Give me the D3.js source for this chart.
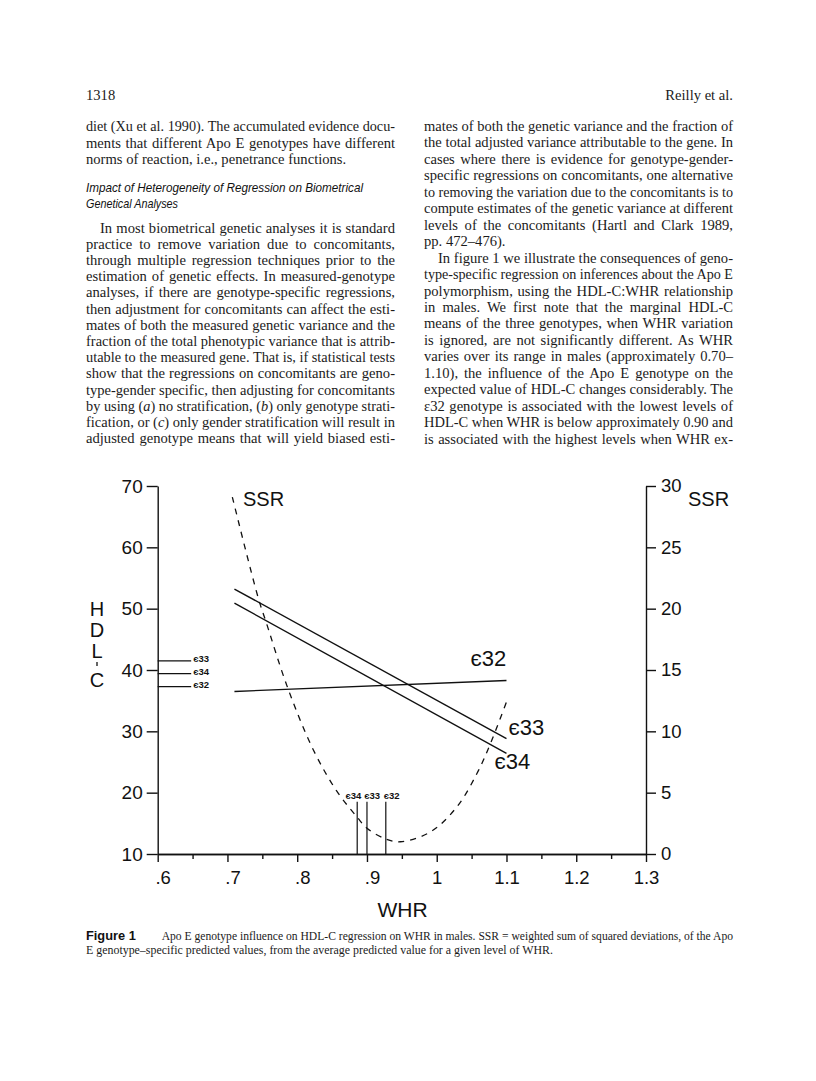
<!DOCTYPE html>
<html>
<head>
<meta charset="utf-8">
<script src="https://cdn.jsdelivr.net/npm/d3@7"></script>
<style>
  body { margin: 0; background: #fff; }
  svg { display: block; }
  .serif { font-family: 'Liberation Serif', 'Times New Roman', serif; fill: #1b1b1b; }
  .sans { font-family: 'Liberation Sans', Arial, sans-serif; fill: #111; }
</style>
</head>
<body>
<div id="page"></div>
<script>
// Page text (underscores mark italic runs)
const pageHeader = ['1318', 'Reilly et al.'];

const leftTopLines = [
  'diet (Xu et al. 1990). The accumulated evidence docu-',
  'ments that different Apo E genotypes have different',
  'norms of reaction, i.e., penetrance functions.'
];

const headingLines = [
  'Impact of Heterogeneity of Regression on Biometrical',
  'Genetical Analyses'
];

const leftBodyLines = [
  'In most biometrical genetic analyses it is standard',
  'practice to remove variation due to concomitants,',
  'through multiple regression techniques prior to the',
  'estimation of genetic effects. In measured-genotype',
  'analyses, if there are genotype-specific regressions,',
  'then adjustment for concomitants can affect the esti-',
  'mates of both the measured genetic variance and the',
  'fraction of the total phenotypic variance that is attrib-',
  'utable to the measured gene. That is, if statistical tests',
  'show that the regressions on concomitants are geno-',
  'type-gender specific, then adjusting for concomitants',
  'by using (_a_) no stratification, (_b_) only genotype strati-',
  'fication, or (_c_) only gender stratification will result in',
  'adjusted genotype means that will yield biased esti-'
];

const rightTopLines = [
  'mates of both the genetic variance and the fraction of',
  'the total adjusted variance attributable to the gene. In',
  'cases where there is evidence for genotype-gender-',
  'specific regressions on concomitants, one alternative',
  'to removing the variation due to the concomitants is to',
  'compute estimates of the genetic variance at different',
  'levels of the concomitants (Hartl and Clark 1989,',
  'pp. 472–476).'
];

const rightBodyLines = [
  'In figure 1 we illustrate the consequences of geno-',
  'type-specific regression on inferences about the Apo E',
  'polymorphism, using the HDL-C:WHR relationship',
  'in males. We first note that the marginal HDL-C',
  'means of the three genotypes, when WHR variation',
  'is ignored, are not significantly different. As WHR',
  'varies over its range in males (approximately 0.70–',
  '1.10), the influence of the Apo E genotype on the',
  'expected value of HDL-C changes considerably. The',
  'ε32 genotype is associated with the lowest levels of',
  'HDL-C when WHR is below approximately 0.90 and',
  'is associated with the highest levels when WHR ex-'
];

const captionTitle = 'Figure 1';
const captionLines = [
  'Apo E genotype influence on HDL-C regression on WHR in males. SSR = weighted sum of squared deviations, of the Apo',
  'E genotype–specific predicted values, from the average predicted value for a given level of WHR.'
];

// Chart values
const whrTicks = [0.6, 0.7, 0.8, 0.9, 1.0, 1.1, 1.2, 1.3];
const whrTickLabels = ['.6', '.7', '.8', '.9', '1', '1.1', '1.2', '1.3'];
const whrMinorTicks = [0.65, 0.75, 0.85, 0.95, 1.05, 1.15, 1.25];
const hdlTicks = [10, 20, 30, 40, 50, 60, 70];
const ssrTicks = [0, 5, 10, 15, 20, 25, 30];

const genotypes = ['є32', 'є33', 'є34'];
const regressionWhr = [0.71, 1.10];
const hdlAtStart = [36.5, 53.2, 50.9];
const hdlAtEnd = [38.3, 28.8, 26.4];
const marginalMeans = [37.3, 41.5, 39.4];
const marginalWhr = [0.6, 0.648];
const crossoverWhr = [0.927, 0.900, 0.886];
const crossoverTop = [18.5, 18.5, 18.5];

const ssrWhr = [0.707, 0.744, 0.756, 0.786, 0.823, 0.857, 0.886, 0.900, 0.928, 0.948, 0.991, 1.029, 1.058, 1.077, 1.100];
const ssrValues = [29.1, 20.9, 18.8, 13.6, 8.5, 5.1, 3.0, 2.1, 1.2, 1.0, 1.8, 3.85, 6.6, 9.0, 12.4];

let svg = d3.select('#page')
            .append('svg')
            .attr('width', 816)
            .attr('height', 1081);

svg.append('rect')
   .attr('width', 816)
   .attr('height', 1081)
   .attr('fill', '#fff');

// Draw one line of text, squeezing or justifying it to the given width.
function addLine(str, x0, y0, width, cls, size, justify) {
  let t = svg.append('text')
             .attr('class', cls)
             .attr('x', x0)
             .attr('y', y0)
             .style('font-size', size + 'px');

  str.split('_').forEach((part, i) => {
    if (!part) return;
    let span = t.append('tspan').text(part);
    if (i % 2 === 1) span.style('font-style', 'italic');
  });

  if (width == null) return t;

  let natural = t.node().getComputedTextLength();
  if (natural > width) {
    t.attr('textLength', width).attr('lengthAdjust', 'spacingAndGlyphs');
  } else if (justify) {
    let spaces = (str.match(/ /g) || []).length;
    if (spaces > 0) t.style('word-spacing', ((width - natural) / spaces) + 'px');
  }
  return t;
}

const bodySize = 14.6;
const leftX = 86, rightX = 424, colWidth = 309, indent = 14;

// Header
addLine(pageHeader[0], leftX, 100, null, 'serif', bodySize);
addLine(pageHeader[1], 733, 100, null, 'serif', bodySize).attr('text-anchor', 'end');

// Left column
leftTopLines.forEach((line, i) => {
  let last = i === leftTopLines.length - 1;
  addLine(line, leftX, 131 + i * 16.6, colWidth, 'serif', bodySize, !last);
});

addLine(headingLines[0], leftX, 192, 277, 'sans', 12.8, true).style('font-style', 'italic');
addLine(headingLines[1], leftX, 207.5, 92, 'sans', 12.8, true).style('font-style', 'italic');

leftBodyLines.forEach((line, i) => {
  let dx = i === 0 ? indent : 0;
  addLine(line, leftX + dx, 232.5 + i * 16.2, colWidth - dx, 'serif', bodySize, true);
});

// Right column
rightTopLines.forEach((line, i) => {
  let last = i === rightTopLines.length - 1;
  addLine(line, rightX, 131 + i * 16.45, last ? null : colWidth, 'serif', bodySize, !last);
});

rightBodyLines.forEach((line, i) => {
  let dx = i === 0 ? indent : 0;
  addLine(line, rightX + dx, 131 + (i + 8) * 16.45, colWidth - dx, 'serif', bodySize, true);
});

// Caption
addLine(captionTitle, leftX, 940, 50, 'sans', 12.8, false).style('font-weight', 'bold');
addLine(captionLines[0], 161.7, 940, 733 - 161.7, 'serif', 12.3, true);
addLine(captionLines[1], leftX, 953.5, 467, 'serif', 12.3, true);

// Scales
let x = d3.scaleLinear()
          .domain([0.6, 1.3])
          .range([157.7, 646]);

let yHdl = d3.scaleLinear()
             .domain([10, 70])
             .range([854, 486]);

let ySsr = d3.scaleLinear()
             .domain([0, 30])
             .range([854, 486]);

function styleAxis(g, size) {
  g.attr('font-family', "'Liberation Sans', Arial, sans-serif")
   .attr('font-size', size);
  g.selectAll('path, line')
   .attr('stroke', '#111')
   .attr('stroke-width', 1.4);
  g.selectAll('text').attr('fill', '#111');
}

// Left axis (HDL-C)
svg.append('g')
   .attr('transform', `translate(${x(0.6)}, 0)`)
   .call(d3.axisLeft(yHdl)
           .tickValues(hdlTicks)
           .tickSize(11)
           .tickPadding(4)
           .tickSizeOuter(0))
   .call(g => styleAxis(g, 19));

// Right axis (SSR)
svg.append('g')
   .attr('transform', `translate(${x(1.3)}, 0)`)
   .call(d3.axisRight(ySsr)
           .tickValues(ssrTicks)
           .tickSize(10)
           .tickPadding(5)
           .tickSizeOuter(0))
   .call(g => styleAxis(g, 18.5));

// Bottom axis (WHR), minor ticks first
svg.append('g')
   .attr('transform', `translate(0, ${yHdl(10)})`)
   .call(d3.axisBottom(x)
           .tickValues(whrMinorTicks)
           .tickSize(5)
           .tickFormat('')
           .tickSizeOuter(0))
   .call(g => styleAxis(g, 18.5));

svg.append('g')
   .attr('transform', `translate(0, ${yHdl(10)})`)
   .call(d3.axisBottom(x)
           .tickValues(whrTicks)
           .tickSize(8)
           .tickPadding(9)
           .tickFormat((d, i) => whrTickLabels[i])
           .tickSizeOuter(0))
   .call(g => styleAxis(g, 18.5))
   .selectAll('text')
   .attr('dx', (d, i) => whrTickLabels[i].startsWith('.') ? 5 : 0);

// Axis titles
svg.append('text')
   .attr('class', 'sans')
   .attr('x', 402.5)
   .attr('y', 917)
   .attr('text-anchor', 'middle')
   .style('font-size', '21px')
   .text('WHR');

let hdlTitle = svg.append('text')
                  .attr('class', 'sans')
                  .attr('text-anchor', 'middle')
                  .style('font-size', '20px');
[['H', 616], ['D', 637], ['L', 657.5], ['C', 687]].forEach(([ch, yy]) => {
  hdlTitle.append('tspan').attr('x', 97).attr('y', yy).text(ch);
});
svg.append('line')
   .attr('x1', 97).attr('x2', 97)
   .attr('y1', 662).attr('y2', 666)
   .attr('stroke', '#111')
   .attr('stroke-width', 1.3);

svg.append('text')
   .attr('class', 'sans')
   .attr('x', 243)
   .attr('y', 506)
   .style('font-size', '20px')
   .text('SSR');

svg.append('text')
   .attr('class', 'sans')
   .attr('x', 688)
   .attr('y', 506)
   .style('font-size', '20px')
   .text('SSR');

// Genotype-specific regression lines
let regressions = genotypes.map((g, i) => ({
  genotype: g,
  start: hdlAtStart[i],
  end: hdlAtEnd[i],
  mean: marginalMeans[i],
  cross: crossoverWhr[i],
  crossTop: crossoverTop[i]
}));

svg.append('g')
   .selectAll('line')
   .data(regressions)
   .enter()
   .append('line')
   .attr('x1', x(regressionWhr[0]))
   .attr('x2', x(regressionWhr[1]))
   .attr('y1', d => yHdl(d.start))
   .attr('y2', d => yHdl(d.end))
   .attr('stroke', '#111')
   .attr('stroke-width', 1.4);

// Big labels at the line ends
const endLabelOffsets = [[-36, -14], [2, -4], [-12, 16]];
svg.append('g')
   .selectAll('text')
   .data(regressions)
   .enter()
   .append('text')
   .attr('class', 'sans')
   .attr('x', (d, i) => x(regressionWhr[1]) + endLabelOffsets[i][0])
   .attr('y', (d, i) => yHdl(d.end) + endLabelOffsets[i][1])
   .style('font-size', '22px')
   .text(d => d.genotype);

// Marginal means on the left
svg.append('g')
   .selectAll('line')
   .data(regressions)
   .enter()
   .append('line')
   .attr('x1', x(marginalWhr[0]))
   .attr('x2', x(marginalWhr[1]))
   .attr('y1', d => yHdl(d.mean))
   .attr('y2', d => yHdl(d.mean))
   .attr('stroke', '#111')
   .attr('stroke-width', 1.2);

svg.append('g')
   .selectAll('text')
   .data(regressions)
   .enter()
   .append('text')
   .attr('class', 'sans')
   .attr('x', x(marginalWhr[1]) + 2)
   .attr('y', d => yHdl(d.mean) + 1)
   .style('font-size', '9.5px')
   .style('font-weight', 'bold')
   .text(d => d.genotype);

// Crossover verticals
const crossLabelOffsets = [-2, -2.7, -11.7];
svg.append('g')
   .selectAll('line')
   .data(regressions)
   .enter()
   .append('line')
   .attr('x1', d => x(d.cross))
   .attr('x2', d => x(d.cross))
   .attr('y1', yHdl(10))
   .attr('y2', d => yHdl(d.crossTop))
   .attr('stroke', '#111')
   .attr('stroke-width', 1.2);

svg.append('g')
   .selectAll('text')
   .data(regressions)
   .enter()
   .append('text')
   .attr('class', 'sans')
   .attr('x', (d, i) => x(d.cross) + crossLabelOffsets[i])
   .attr('y', d => yHdl(d.crossTop) - 3)
   .style('font-size', '9.5px')
   .style('font-weight', 'bold')
   .text(d => d.genotype);

// SSR dashed curve
let ssrPoints = ssrWhr.map((w, i) => ({ whr: w, ssr: ssrValues[i] }));

svg.append('path')
   .datum(ssrPoints)
   .attr('fill', 'none')
   .attr('stroke', '#111')
   .attr('stroke-width', 1.3)
   .attr('stroke-dasharray', '6,6')
   .attr('d', d3.line()
                .x(d => x(d.whr))
                .y(d => ySsr(d.ssr))
                .curve(d3.curveCatmullRom));
</script>
</body>
</html>
